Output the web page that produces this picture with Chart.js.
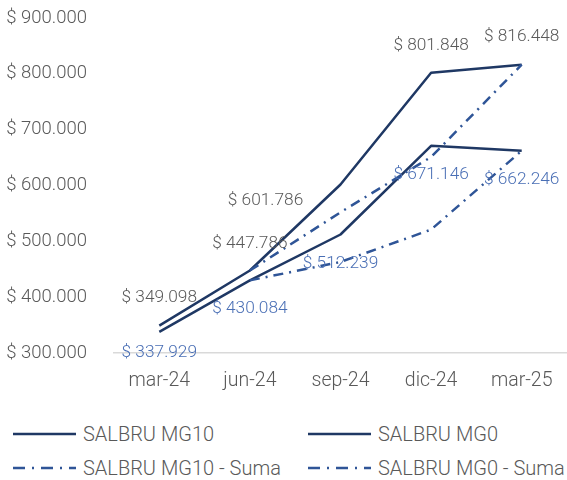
<!DOCTYPE html>
<html>
<head>
<meta charset="utf-8">
<script src="https://cdn.jsdelivr.net/npm/chart.js@4.4.1/dist/chart.umd.min.js"></script>
<style>
  html, body { margin: 0; padding: 0; background: #ffffff; }
  #wrap { position: relative; width: 567px; height: 480px; overflow: hidden; background: #fff; font-family: Roboto, "Open Sans", sans-serif; }
  #chartBox { position: absolute; left: 0; top: 0; width: 567px; height: 400px; }
  .leg { position: absolute; display: flex; align-items: center; height: 26px; font-family: Roboto, sans-serif; font-weight: 300; font-size: 20px; color: #595959; white-space: nowrap; }
  .leg svg { display: block; margin-right: 7px; }
</style>
</head>
<body>
<div id="wrap">
  <div id="chartBox"><canvas id="c" width="567" height="400"></canvas></div>
  <div id="legend"></div>
</div>
<script>
// ---- data ----
const categories = ["mar-24", "jun-24", "sep-24", "dic-24", "mar-25"];
const seriesNames = ["SALBRU MG10", "SALBRU MG0", "SALBRU MG10 - Suma", "SALBRU MG0 - Suma"];
const mg10 = [349098, 447786, 601786, 801848, 816448];
const mg0 = [337929, 430084, 512239, 671146, 662246];
const mg10Suma = [null, 447786, 552000, 651000, 816448];
const mg0Suma = [null, 430084, 463000, 521000, 662246];
const yTicks = [300000, 400000, 500000, 600000, 700000, 800000, 900000];

// ---- style ----
const NAVY = "#1f3864";
const BLUE = "#2f5597";
const LABEL_GREY = "#595959";
const LABEL_BLUE = "#4a6fb5";
const FONT = "Roboto, 'Open Sans', sans-serif";
// label offsets (px) relative to point, per series
const mg10LabelOffsets = [[0, -28], [0, -27], [-75, 16], [0, -27], [0, -28]];
const mg0LabelOffsets = [[0, 21], [0, 28], [0, 29], [0, 29], [0, 29]];

function fmt(v) {
  const s = Math.round(v).toString();
  return "$ " + s.replace(/\B(?=(\d{3})+(?!\d))/g, ".");
}

const labelPlugin = {
  id: "dataLabels",
  afterDatasetsDraw(chart) {
    const ctx = chart.ctx;
    ctx.save();
    ctx.font = "300 17.3px " + FONT;
    ctx.textAlign = "center";
    ctx.textBaseline = "middle";
    chart.data.datasets.forEach((ds, i) => {
      if (!ds.labelOffsets) return;
      const meta = chart.getDatasetMeta(i);
      ctx.fillStyle = ds.labelColor;
      meta.data.forEach((pt, j) => {
        const v = ds.data[j];
        if (v == null) return;
        const off = ds.labelOffsets[j];
        ctx.fillText(fmt(v), pt.x + off[0], pt.y + off[1]);
      });
    });
    ctx.restore();
  }
};

const chart = new Chart(document.getElementById("c"), {
  type: "line",
  data: {
    labels: categories,
    datasets: [
      { label: seriesNames[2], data: mg10Suma, borderColor: BLUE, borderWidth: 2.5, borderDash: [10, 6, 2, 6], pointRadius: 0, tension: 0 },
      { label: seriesNames[3], data: mg0Suma, borderColor: BLUE, borderWidth: 2.5, borderDash: [10, 6, 2, 6], pointRadius: 0, tension: 0 },
      { label: seriesNames[0], data: mg10, borderColor: NAVY, borderWidth: 2.5, pointRadius: 0, tension: 0, borderJoinStyle: "round", labelColor: LABEL_GREY, labelOffsets: mg10LabelOffsets },
      { label: seriesNames[1], data: mg0, borderColor: NAVY, borderWidth: 2.5, pointRadius: 0, tension: 0, borderJoinStyle: "round", labelColor: LABEL_BLUE, labelOffsets: mg0LabelOffsets }
    ]
  },
  options: {
    responsive: false,
    devicePixelRatio: 1,
    animation: false,
    layout: { padding: { top: 18, left: 0, right: 0, bottom: 0 } },
    plugins: { legend: { display: false }, tooltip: { enabled: false }, title: { display: false } },
    scales: {
      x: {
        type: "category",
        offset: true,
        grid: { display: true, drawOnChartArea: false, drawTicks: true, tickLength: 16, tickColor: "rgba(0,0,0,0)", color: "rgba(0,0,0,0)" },
        border: { display: true, color: "#d9d9d9", width: 1.5 },
        ticks: { color: LABEL_GREY, font: { family: FONT, size: 19.5, weight: 300 }, padding: 0, maxRotation: 0 },
        afterFit(scale) { scale.height = 47; }
      },
      y: {
        min: yTicks[0],
        max: yTicks[yTicks.length - 1],
        afterBuildTicks(scale) { scale.ticks = yTicks.map(v => ({ value: v })); },
        grid: { display: true, drawOnChartArea: false, drawTicks: true, tickLength: 27, tickColor: "rgba(0,0,0,0)", color: "rgba(0,0,0,0)" },
        border: { display: false },
        ticks: { color: LABEL_GREY, font: { family: FONT, size: 18.5, weight: 300 }, padding: 0, callback: v => fmt(v) },
        afterFit(scale) { scale.width = 114; }
      }
    }
  },
  plugins: [labelPlugin]
});

// ---- HTML legend ----
const legendItems = [
  { name: seriesNames[0], color: NAVY, dash: null, x: 13, y: 421 },
  { name: seriesNames[1], color: NAVY, dash: null, x: 308, y: 421 },
  { name: seriesNames[2], color: BLUE, dash: "12 7 2 7", x: 13, y: 455 },
  { name: seriesNames[3], color: BLUE, dash: "12 7 2 7", x: 308, y: 455 }
];
const legend = document.getElementById("legend");
legendItems.forEach(it => {
  const d = document.createElement("div");
  d.className = "leg";
  d.style.left = it.x + "px";
  d.style.top = it.y + "px";
  const dashAttr = it.dash ? ` stroke-dasharray="${it.dash}"` : "";
  d.innerHTML = `<svg width="63" height="6"><line x1="0" y1="3" x2="63" y2="3" stroke="${it.color}" stroke-width="2.5"${dashAttr}/></svg><span>${it.name}</span>`;
  legend.appendChild(d);
});
</script>
</body>
</html>
